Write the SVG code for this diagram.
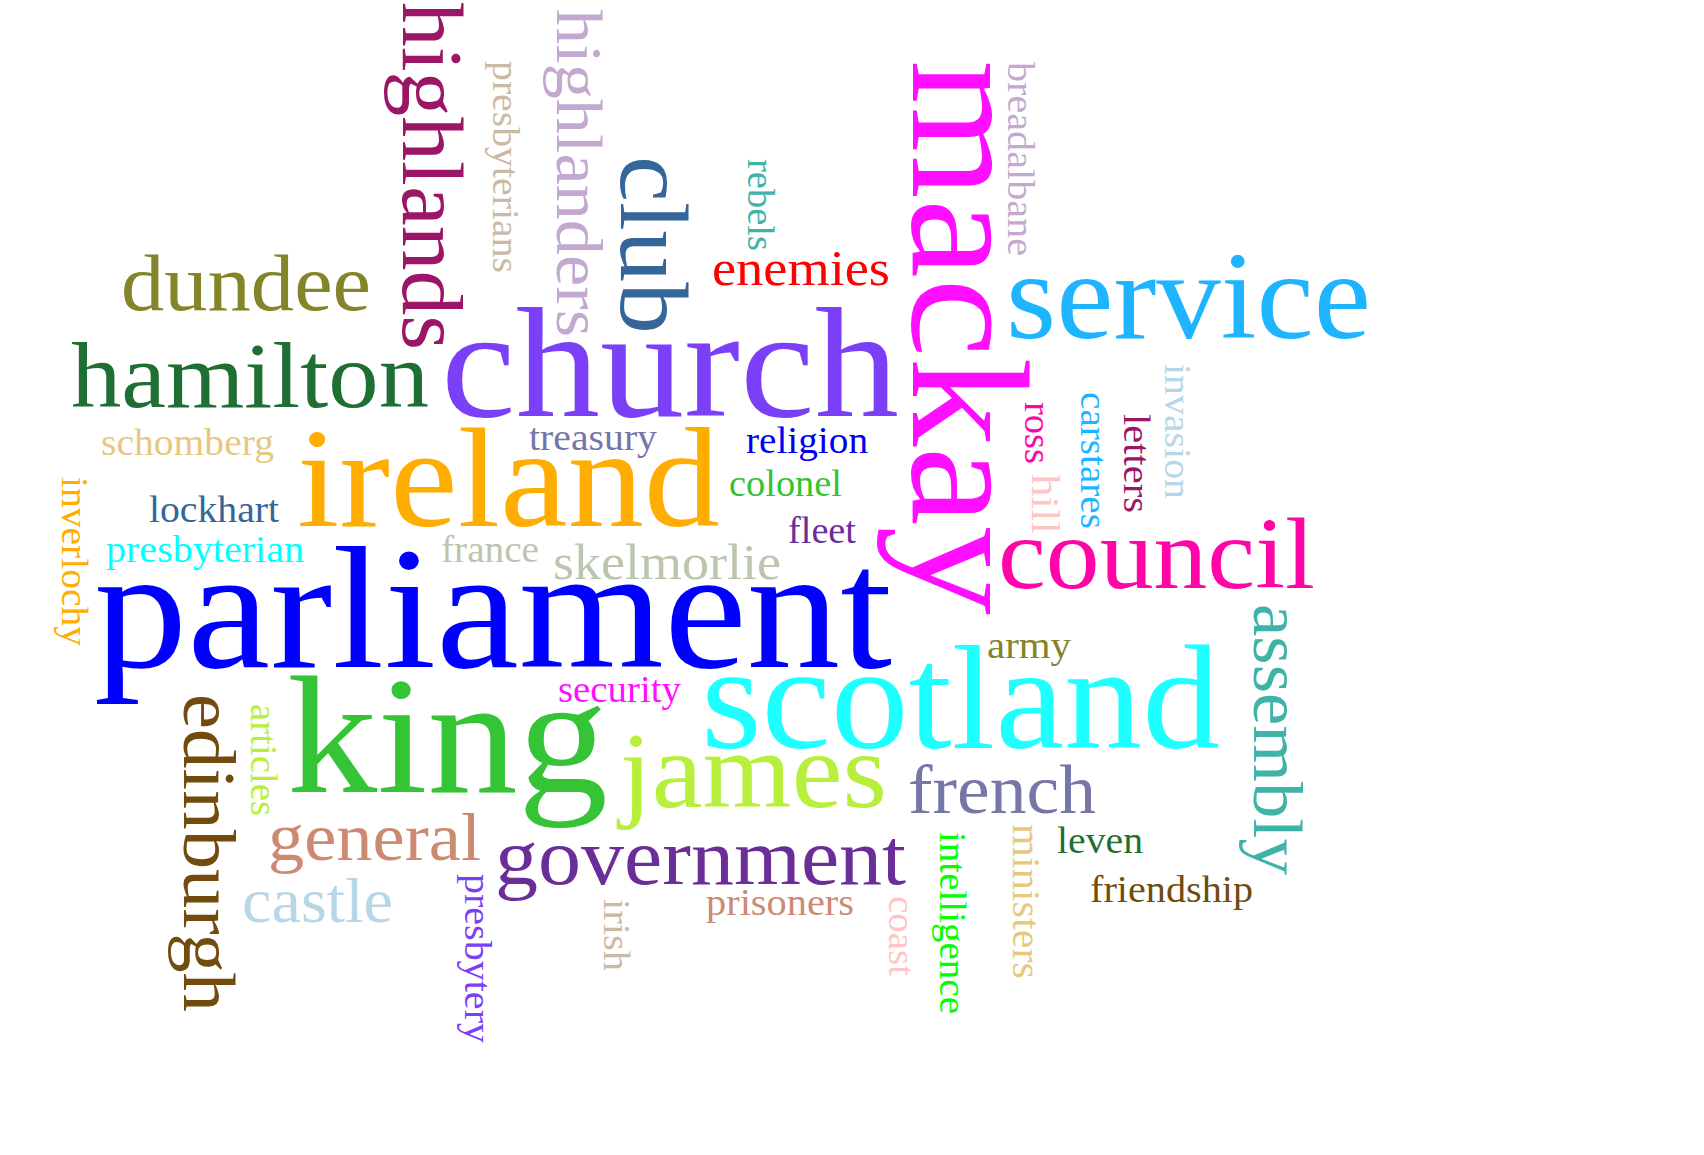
<svg xmlns="http://www.w3.org/2000/svg" width="1704" height="1155" viewBox="0 0 1704 1155">
<style>
text{font-family:"Liberation Serif","Times New Roman",serif;}
</style>
<rect width="1704" height="1155" fill="#ffffff"/>
<g id="words-horizontal" lengthAdjust="spacingAndGlyphs">
<text id="dundee" x="121" y="310" font-size="80" fill="#848428" textLength="250" lengthAdjust="spacingAndGlyphs">dundee</text>
<text id="hamilton" x="71" y="407" font-size="93" fill="#1f6f35" textLength="358" lengthAdjust="spacingAndGlyphs">hamilton</text>
<text id="schomberg" x="101" y="455" font-size="38" fill="#e6c87f" textLength="173" lengthAdjust="spacingAndGlyphs">schomberg</text>
<text id="church" x="441" y="416" font-size="157" fill="#7b3ff7" textLength="458" lengthAdjust="spacingAndGlyphs">church</text>
<text id="ireland" x="297" y="526" font-size="142" fill="#ffad00" textLength="423" lengthAdjust="spacingAndGlyphs">ireland</text>
<text id="treasury" x="529" y="450" font-size="37" fill="#7575a7" textLength="128" lengthAdjust="spacingAndGlyphs">treasury</text>
<text id="religion" x="746" y="453" font-size="38" fill="#0000f0" textLength="122" lengthAdjust="spacingAndGlyphs">religion</text>
<text id="colonel" x="729" y="496" font-size="37" fill="#33c433" textLength="113" lengthAdjust="spacingAndGlyphs">colonel</text>
<text id="fleet" x="788" y="543" font-size="37" fill="#6b2d98" textLength="68" lengthAdjust="spacingAndGlyphs">fleet</text>
<text id="lockhart" x="149" y="522" font-size="37" fill="#346699" textLength="130" lengthAdjust="spacingAndGlyphs">lockhart</text>
<text id="presbyterian" x="106" y="562" font-size="38" fill="#00ffff" textLength="198" lengthAdjust="spacingAndGlyphs">presbyterian</text>
<text id="france" x="441" y="562" font-size="37" fill="#bac6ad" textLength="98" lengthAdjust="spacingAndGlyphs">france</text>
<text id="skelmorlie" x="553" y="579" font-size="51" fill="#bac6ad" textLength="228" lengthAdjust="spacingAndGlyphs">skelmorlie</text>
<text id="parliament" x="94" y="667" font-size="173" fill="#0000ff" textLength="798" lengthAdjust="spacingAndGlyphs">parliament</text>
<text id="king" x="287" y="792" font-size="168" fill="#35c435" textLength="321" lengthAdjust="spacingAndGlyphs">king</text>
<text id="security" x="558" y="702" font-size="37" fill="#ff0fff" textLength="123" lengthAdjust="spacingAndGlyphs">security</text>
<text id="scotland" x="701" y="748" font-size="148" fill="#1effff" textLength="519" lengthAdjust="spacingAndGlyphs">scotland</text>
<text id="james" x="620" y="807" font-size="109" fill="#b8ef3c" textLength="267" lengthAdjust="spacingAndGlyphs">james</text>
<text id="french" x="908" y="813" font-size="69" fill="#7676a8" textLength="188" lengthAdjust="spacingAndGlyphs">french</text>
<text id="general" x="268" y="860" font-size="68" fill="#cd8a73" textLength="213" lengthAdjust="spacingAndGlyphs">general</text>
<text id="government" x="495" y="884" font-size="80" fill="#6b2d98" textLength="411" lengthAdjust="spacingAndGlyphs">government</text>
<text id="castle" x="242" y="922" font-size="64" fill="#b7d6e8" textLength="151" lengthAdjust="spacingAndGlyphs">castle</text>
<text id="prisoners" x="706" y="915" font-size="38" fill="#cd8a73" textLength="148" lengthAdjust="spacingAndGlyphs">prisoners</text>
<text id="enemies" x="712" y="285" font-size="51" fill="#ff0000" textLength="178" lengthAdjust="spacingAndGlyphs">enemies</text>
<text id="service" x="1006" y="338" font-size="125" fill="#1eb4ff" textLength="365" lengthAdjust="spacingAndGlyphs">service</text>
<text id="council" x="998" y="588" font-size="102" fill="#ff05a8" textLength="317" lengthAdjust="spacingAndGlyphs">council</text>
<text id="army" x="987" y="658" font-size="38" fill="#848428" textLength="84" lengthAdjust="spacingAndGlyphs">army</text>
<text id="leven" x="1057" y="853" font-size="37" fill="#1f6f35" textLength="86" lengthAdjust="spacingAndGlyphs">leven</text>
<text id="friendship" x="1090" y="902" font-size="38" fill="#714c0e" textLength="163" lengthAdjust="spacingAndGlyphs">friendship</text>
</g>
<g id="words-vertical">
<text id="highlands" transform="translate(403,2) rotate(90)" font-size="86" fill="#9c1668" textLength="348" lengthAdjust="spacingAndGlyphs">highlands</text>
<text id="presbyterians" transform="translate(493,61) rotate(90)" font-size="38" fill="#ccb9a4" textLength="212" lengthAdjust="spacingAndGlyphs">presbyterians</text>
<text id="highlanders" transform="translate(557,9) rotate(90)" font-size="66" fill="#c3a9cf" textLength="328" lengthAdjust="spacingAndGlyphs">highlanders</text>
<text id="club" transform="translate(621,156) rotate(90)" font-size="97" fill="#346699" textLength="178" lengthAdjust="spacingAndGlyphs">club</text>
<text id="rebels" transform="translate(748,159) rotate(90)" font-size="37" fill="#3fb3a8" textLength="92" lengthAdjust="spacingAndGlyphs">rebels</text>
<text id="mackay" transform="translate(913,60) rotate(90)" font-size="168" fill="#ff0fff" textLength="555" lengthAdjust="spacingAndGlyphs">mackay</text>
<text id="breadalbane" transform="translate(1008,62) rotate(90)" font-size="38" fill="#c3a9cf" textLength="194" lengthAdjust="spacingAndGlyphs">breadalbane</text>
<text id="ross" transform="translate(1025,402) rotate(90)" font-size="37" fill="#ff05a8" textLength="62" lengthAdjust="spacingAndGlyphs">ross</text>
<text id="hill" transform="translate(1032,474) rotate(90)" font-size="40" fill="#ffc5c5" textLength="60" lengthAdjust="spacingAndGlyphs">hill</text>
<text id="carstares" transform="translate(1081,392) rotate(90)" font-size="38" fill="#1eb4ff" textLength="137" lengthAdjust="spacingAndGlyphs">carstares</text>
<text id="letters" transform="translate(1124,414) rotate(90)" font-size="38" fill="#9c1668" textLength="99" lengthAdjust="spacingAndGlyphs">letters</text>
<text id="invasion" transform="translate(1165,364) rotate(90)" font-size="38" fill="#b7d6e8" textLength="135" lengthAdjust="spacingAndGlyphs">invasion</text>
<text id="inverlochy" transform="translate(62,477) rotate(90)" font-size="38" fill="#ffad00" textLength="169" lengthAdjust="spacingAndGlyphs">inverlochy</text>
<text id="assembly" transform="translate(1254,604) rotate(90)" font-size="70" fill="#3fb3a8" textLength="271" lengthAdjust="spacingAndGlyphs">assembly</text>
<text id="edinburgh" transform="translate(184,694) rotate(90)" font-size="73" fill="#714c0e" textLength="318" lengthAdjust="spacingAndGlyphs">edinburgh</text>
<text id="articles" transform="translate(251,704) rotate(90)" font-size="37" fill="#b8ef3c" textLength="112" lengthAdjust="spacingAndGlyphs">articles</text>
<text id="presbytery" transform="translate(465,874) rotate(90)" font-size="38" fill="#7b3ff7" textLength="169" lengthAdjust="spacingAndGlyphs">presbytery</text>
<text id="irish" transform="translate(604,899) rotate(90)" font-size="38" fill="#ccb9a4" textLength="72" lengthAdjust="spacingAndGlyphs">irish</text>
<text id="coast" transform="translate(889,896) rotate(90)" font-size="37" fill="#ffc5c5" textLength="80" lengthAdjust="spacingAndGlyphs">coast</text>
<text id="intelligence" transform="translate(940,832) rotate(90)" font-size="38" fill="#00ff00" textLength="182" lengthAdjust="spacingAndGlyphs">intelligence</text>
<text id="ministers" transform="translate(1013,824) rotate(90)" font-size="39" fill="#e6c87f" textLength="155" lengthAdjust="spacingAndGlyphs">ministers</text>
</g>
</svg>
